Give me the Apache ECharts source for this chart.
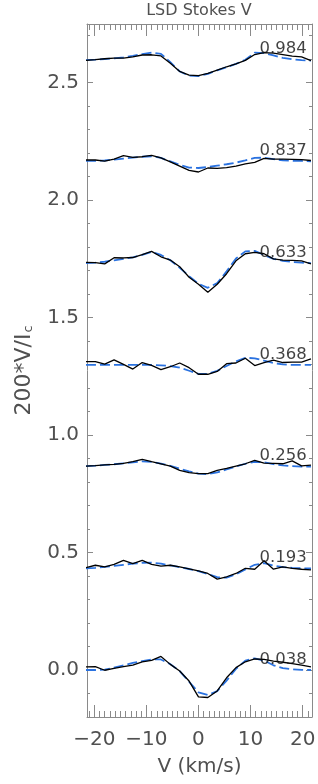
<!DOCTYPE html>
<html>
<head>
<meta charset="UTF-8">
<title>LSD Stokes V</title>
<script src="https://cdn.jsdelivr.net/npm/echarts@6/dist/echarts.min.js"></script>
<style>
  html, body { margin: 0; padding: 0; background: #fff; }
  #chart { width: 318px; height: 784px; }
</style>
</head>
<body>
<div id="chart"></div>
<script>
// velocity grid (km/s)
var velocity = [-21.6, -19.8, -18.0, -16.2, -14.4, -12.6, -10.8, -9.0, -7.2, -5.4, -3.6, -1.8, 0.0,
                1.8, 3.6, 5.4, 7.2, 9.0, 10.8, 12.6, 14.4, 16.2, 18.0, 19.8, 21.6];

// rotational phases, bottom to top, and the vertical shift of each profile
var phases  = ['0.038', '0.193', '0.256', '0.368', '0.633', '0.837', '0.984'];
var offsets = [0.0, 0.433, 0.866, 1.299, 1.732, 2.165, 2.598];

// observed LSD profiles (200*V/Ic), one per phase
var obs038 = [0.013, 0.014, -0.001, 0.007, 0.014, 0.021, 0.035, 0.041, 0.058, 0.024, -0.004, -0.047, -0.114,
              -0.117, -0.089, -0.033, 0.010, 0.035, 0.047, 0.045, 0.038, 0.033, 0.027, 0.021, 0.013];
var obs193 = [0.003, 0.013, 0.006, 0.017, 0.034, 0.020, 0.034, 0.017, 0.009, 0.013, 0.006, -0.002, -0.011,
              -0.022, -0.046, -0.036, -0.022, 0.000, -0.004, 0.032, -0.004, 0.006, 0.000, -0.004, -0.007];
var obs256 = [0.002, 0.004, 0.007, 0.009, 0.014, 0.021, 0.031, 0.021, 0.012, 0.002, -0.016, -0.026, -0.030,
              -0.030, -0.016, -0.008, 0.002, 0.012, 0.026, 0.015, 0.014, 0.012, 0.024, 0.003, 0.006];
var obs368 = [0.014, 0.014, 0.003, 0.021, 0.002, -0.018, 0.010, -0.002, -0.020, -0.008, 0.008, -0.012, -0.040,
              -0.040, -0.028, 0.005, 0.008, 0.028, -0.003, 0.010, 0.020, 0.010, 0.012, 0.012, 0.025];
var obs633 = [0.003, 0.002, -0.003, 0.023, 0.022, 0.024, 0.036, 0.050, 0.027, 0.013, -0.015, -0.060, -0.090,
              -0.124, -0.090, -0.045, 0.010, 0.040, 0.046, 0.040, 0.018, 0.013, 0.012, 0.010, -0.003];
var obs837 = [0.006, 0.006, 0.001, 0.010, 0.025, 0.017, 0.020, 0.026, 0.015, -0.002, -0.020, -0.038, -0.045,
              -0.028, -0.030, -0.026, -0.020, -0.010, -0.004, 0.013, 0.010, 0.010, 0.009, 0.008, 0.004];
var obs984 = [-0.003, 0.000, 0.004, 0.007, 0.007, 0.012, 0.020, 0.021, 0.016, -0.015, -0.050, -0.066, -0.068,
              -0.058, -0.044, -0.030, -0.018, -0.003, 0.022, 0.030, 0.028, 0.022, 0.015, 0.012, -0.004];

// model profiles (dashed blue)
var mod038 = [0.000, 0.000, 0.002, 0.010, 0.020, 0.030, 0.038, 0.045, 0.045, 0.025, -0.005, -0.050, -0.095,
              -0.106, -0.090, -0.045, 0.005, 0.040, 0.050, 0.040, 0.020, 0.008, 0.003, 0.001, 0.000];
var mod193 = [0.000, 0.002, 0.006, 0.010, 0.015, 0.020, 0.023, 0.024, 0.020, 0.012, 0.005, -0.003, -0.012,
              -0.025, -0.038, -0.040, -0.025, -0.005, 0.015, 0.022, 0.012, 0.005, 0.002, 0.000, 0.000];
var mod256 = [0.002, 0.004, 0.007, 0.010, 0.014, 0.018, 0.022, 0.020, 0.013, 0.003, -0.009, -0.020, -0.030,
              -0.032, -0.025, -0.012, 0.000, 0.012, 0.020, 0.018, 0.010, 0.005, 0.002, 0.000, 0.000];
var mod368 = [0.000, 0.000, 0.000, 0.000, 0.000, 0.000, 0.000, 0.000, -0.002, -0.005, -0.012, -0.025, -0.038,
              -0.038, -0.025, -0.005, 0.015, 0.030, 0.028, 0.018, 0.008, 0.002, 0.000, 0.000, 0.000];
var mod633 = [0.000, 0.002, 0.006, 0.012, 0.018, 0.025, 0.035, 0.048, 0.035, 0.012, -0.020, -0.055, -0.088,
              -0.105, -0.085, -0.035, 0.020, 0.050, 0.052, 0.035, 0.018, 0.010, 0.005, 0.002, 0.000];
var mod837 = [0.002, 0.002, 0.004, 0.008, 0.012, 0.016, 0.020, 0.022, 0.015, 0.000, -0.015, -0.026, -0.028,
              -0.024, -0.018, -0.012, -0.005, 0.004, 0.015, 0.016, 0.010, 0.005, 0.003, 0.002, 0.000];
var mod984 = [-0.002, 0.000, 0.003, 0.006, 0.010, 0.016, 0.024, 0.030, 0.025, -0.010, -0.050, -0.068, -0.070,
              -0.060, -0.045, -0.032, -0.018, 0.000, 0.030, 0.028, 0.018, 0.008, 0.002, -0.002, -0.004];

var observed = [obs038, obs193, obs256, obs368, obs633, obs837, obs984];
var models   = [mod038, mod193, mod256, mod368, mod633, mod837, mod984];

var xTickLabels = [-20, -10, 0, 10, 20];
var yTickLabels = [0.0, 0.5, 1.0, 1.5, 2.0, 2.5];

var xMin = -21.4, xMax = 21.8;
var yMin = -0.2, yMax = 2.75;

var frameColor = '#8a8a8a';
var textColor = '#505050';
var font = 'DejaVu Sans';

// minor tick positions
var xMinor = [];
for (var i = -21; i <= 21; i++) xMinor.push(i);
var yMinor = [];
for (var j = -2; j <= 27; j++) yMinor.push(+(j / 10).toFixed(1));

function pts(vals, off) {
    return velocity.map(function (v, k) { return [v, vals[k] + off]; });
}

function xAxisDef(pos, major) {
    var a = {
        type: 'value', position: pos, min: xMin, max: xMax,
        splitLine: { show: false },
        axisLine: { show: major, onZero: false, lineStyle: { color: frameColor, width: 1 } },
        axisTick: { inside: true, length: major ? 12 : 6, customValues: major ? xTickLabels : xMinor,
                    lineStyle: { color: frameColor, width: 1 } },
        axisLabel: { show: false }
    };
    if (major && pos === 'bottom') {
        a.axisLabel = {
            show: true, customValues: xTickLabels, margin: 13,
            fontFamily: font, fontSize: 20, color: textColor,
            formatter: function (v) { return v < 0 ? '\u2212' + Math.abs(v) : String(v); }
        };
        a.name = 'V (km/s)';
        a.nameLocation = 'middle';
        a.nameGap = 40;
        a.nameTextStyle = { fontFamily: font, fontSize: 20, color: textColor };
    }
    return a;
}

function yAxisDef(pos, major) {
    var a = {
        type: 'value', position: pos, min: yMin, max: yMax,
        splitLine: { show: false },
        axisLine: { show: major, onZero: false, lineStyle: { color: frameColor, width: 1 } },
        axisTick: { inside: true, length: major ? 6 : 3, customValues: major ? yTickLabels : yMinor,
                    lineStyle: { color: frameColor, width: 1 } },
        axisLabel: { show: false }
    };
    if (major && pos === 'left') {
        a.axisLabel = {
            show: true, customValues: yTickLabels, margin: 8,
            fontFamily: font, fontSize: 20, color: textColor,
            formatter: function (v) { return v.toFixed(1); }
        };
        a.name = '{m|200*V/I}{s|c}';
        a.nameLocation = 'middle';
        a.nameGap = 52;
        a.nameTextStyle = {
            fontFamily: font, color: textColor,
            rich: {
                m: { fontFamily: font, fontSize: 22, color: textColor },
                s: { fontFamily: font, fontSize: 13, color: textColor, verticalAlign: 'bottom', padding: [9, 0, 0, 1] }
            }
        };
    }
    return a;
}

var series = [];
for (var p = 0; p < phases.length; p++) {
    series.push({
        type: 'line', data: pts(models[p], offsets[p]), showSymbol: false, silent: true,
        lineStyle: { color: '#2a72e0', width: 1.8, type: [10, 4] }, z: 2
    });
    series.push({
        type: 'line', data: pts(observed[p], offsets[p]), showSymbol: false, silent: true,
        lineStyle: { color: '#000', width: 1.3 }, z: 3
    });
}
// phase labels, right end of each profile
series.push({
    type: 'scatter', symbolSize: 0, silent: true, z: 4,
    data: phases.map(function (ph, k) { return { value: [20.8, offsets[k] + 0.045], name: ph }; }),
    label: {
        show: true, position: 'left', distance: 0,
        formatter: function (d) { return d.name; },
        fontFamily: font, fontSize: 16.5, color: '#111'
    }
});

var chart = echarts.init(document.getElementById('chart'));
chart.setOption({
    animation: false,
    backgroundColor: '#fff',
    graphic: [{
        type: 'text', x: 199, y: 3, silent: true,
        style: { text: 'LSD Stokes V', textAlign: 'center', fontFamily: font, fontSize: 16, fill: textColor }
    }],
    grid: { left: 87, right: 6, top: 24, bottom: 67, containLabel: false, outerBoundsMode: 'none' },
    xAxis: [xAxisDef('bottom', true), xAxisDef('bottom', false), xAxisDef('top', true), xAxisDef('top', false)],
    yAxis: [yAxisDef('left', true), yAxisDef('left', false), yAxisDef('right', true), yAxisDef('right', false)],
    series: series
});
</script>
</body>
</html>
